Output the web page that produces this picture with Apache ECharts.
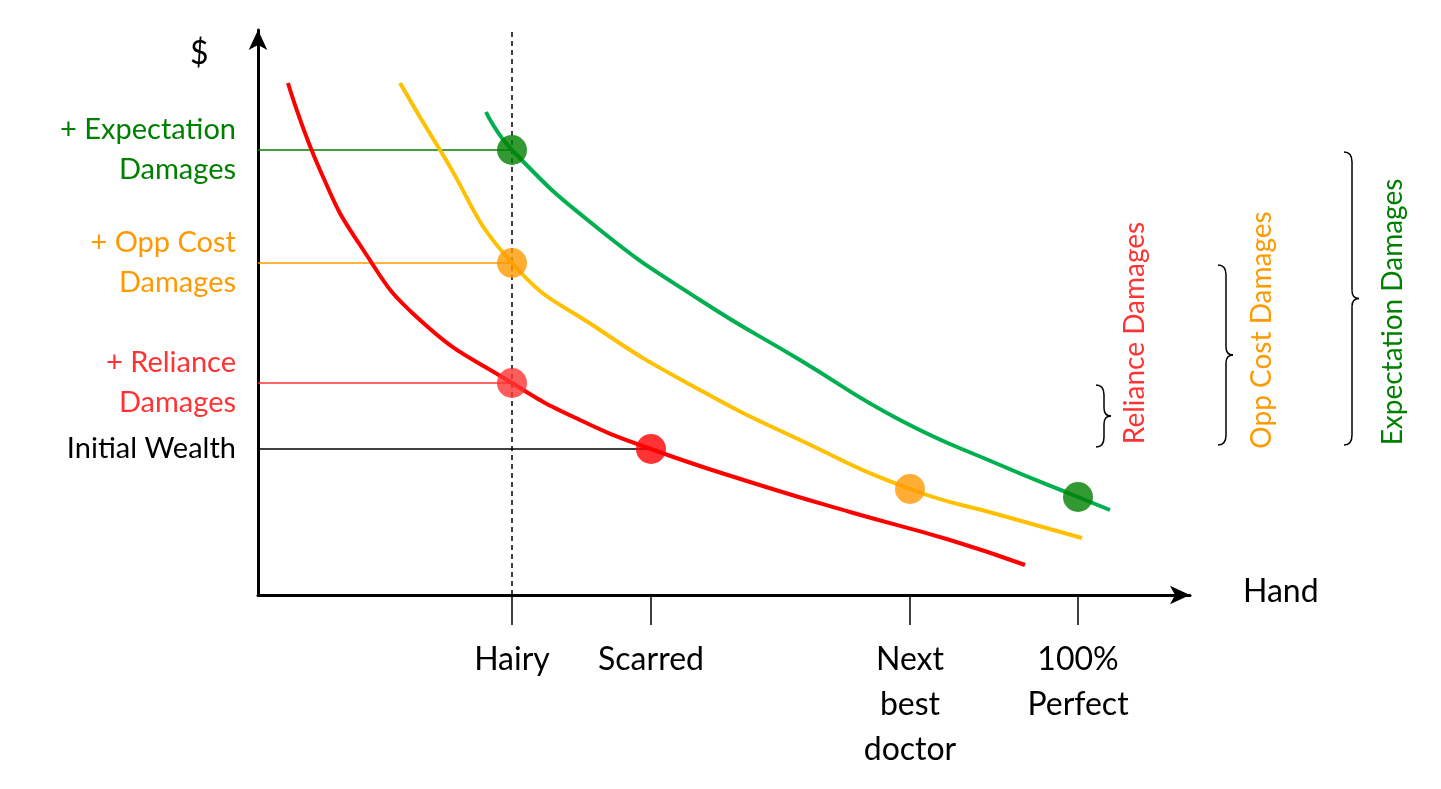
<!DOCTYPE html>
<html><head><meta charset="utf-8">
<script src="https://cdn.jsdelivr.net/npm/echarts@6/dist/echarts.min.js"></script>
<style>html,body{margin:0;background:#fff}#chart{width:1441px;height:789px}</style>
</head><body><div id="chart"></div>
<script>
// curves (x = hand quality, y = $), units are arbitrary
var redCurve = [[30,512],[62,425],[102,350],[162,275],[254,212],[322,175],[393,146],[492,113],[592,83],[692,55],[767,30]];
var yellowCurve = [[142,512],[182,445],[254,332],[342,265],[442,205],[542,155],[652,106],[742,80],[824,57]];
var greenCurve = [[228,483],[254,445],[342,365],[442,295],[542,235],[642,175],[742,130],[820,98],[852,85]];
var xTicks = [254, 393, 652, 820];
var xTickLabels = ['Hairy', 'Scarred', 'Next\nbest\ndoctor', '100%\nPerfect'];
var yTicks = [445, 332, 212, 146];
var yTickLabels = ['{g|+ Expectation}\n{g|Damages}', '{o|+ Opp Cost}\n{o|Damages}', '{r|+ Reliance}\n{r|Damages}', '{k|Initial Wealth}'];
var hairy = 254, scarred = 393;

var font = 'Lato';
// curly brace made of small pieces
function brace(x, y0, y1) {
    var ym = (y0 + y1) / 2;
    var st = {stroke: '#000', fill: null, lineWidth: 1.5};
    function bz(a, b, c, d, e, f) { return {type: 'bezierCurve', shape: {x1: a, y1: b, cpx1: c, cpy1: d, x2: e, y2: f}, style: st}; }
    function ln(a, b, c, d) { return {type: 'line', shape: {x1: a, y1: b, x2: c, y2: d}, style: st}; }
    return {type: 'group', children: [
        bz(x, y0, x+8, y0, x+8, y0+10),
        ln(x+8, y0+10, x+8, ym-8),
        bz(x+8, ym-8, x+8, ym, x+15, ym),
        bz(x+15, ym, x+8, ym, x+8, ym+8),
        ln(x+8, ym+8, x+8, y1-10),
        bz(x+8, y1-10, x+8, y1, x, y1)
    ]};
}
function hline(y, color) {
    return {type: 'line', data: [[0, y], [y === 146 ? scarred : hairy, y]], symbol: 'none', lineStyle: {color: color, width: 1.5}, z: 1};
}
function dots(pts, color) {
    return {type: 'scatter', data: pts, symbolSize: 30, itemStyle: {color: color}, z: 5};
}

var chart = echarts.init(document.getElementById('chart'));
chart.setOption({
    animation: false,
    grid: {left: 258, top: 30, right: 251, bottom: 194},
    xAxis: {
        type: 'value', min: 0, max: 932,
        splitLine: {show: false},
        axisLine: {lineStyle: {color: '#000', width: 3}, symbol: ['none', 'arrow'], symbolSize: [14, 20]},
        axisTick: {customValues: xTicks, length: 30, lineStyle: {color: '#000', width: 1.5}, inside: false},
        axisLabel: {customValues: xTicks, formatter: function (v) { return xTickLabels[xTicks.indexOf(v)]; },
            margin: 42, color: '#000', fontSize: 32, fontFamily: font, lineHeight: 45, verticalAlign: 'top'}
    },
    yAxis: {
        type: 'value', min: 0, max: 565,
        splitLine: {show: false},
        axisLine: {lineStyle: {color: '#000', width: 3}, symbol: ['none', 'arrow'], symbolSize: [14, 20]},
        axisTick: {show: false},
        axisLabel: {customValues: yTicks, formatter: function (v) { return yTickLabels[yTicks.indexOf(v)]; },
            margin: 22, align: 'right', fontSize: 29, fontFamily: font, lineHeight: 40,
            rich: {g: {color: '#008000', fontSize: 29, fontFamily: font, align: 'right'},
                   o: {color: '#ff9900', fontSize: 29, fontFamily: font, align: 'right'},
                   r: {color: '#ff3333', fontSize: 29, fontFamily: font, align: 'right'},
                   k: {color: '#000', fontSize: 29, fontFamily: font, align: 'right'}}}
    },
    series: [
        {type: 'line', data: [[hairy, 0], [hairy, 570]], symbol: 'none', lineStyle: {color: '#000', width: 1.5, type: [5, 4]}, z: 1},
        hline(445, '#008000'), hline(332, '#ff9900'), hline(212, '#ff3333'), hline(146, '#000'),
        {type: 'line', data: redCurve, smooth: true, symbol: 'none', lineStyle: {color: '#ff0000', width: 4}},
        {type: 'line', data: yellowCurve, smooth: true, symbol: 'none', lineStyle: {color: '#ffc000', width: 4}},
        {type: 'line', data: greenCurve, smooth: true, symbol: 'none', lineStyle: {color: '#00b050', width: 4}},
        dots([[254, 445], [820, 98]], '#008000'),
        dots([[254, 332], [652, 106]], '#ff9900'),
        dots([[254, 212]], '#ff3333'),
        dots([[393, 146]], '#ff0000')
    ],
    graphic: [
        {type: 'text', left: 190, top: 38, style: {text: '$', fontSize: 32, fontFamily: font, fill: '#000'}},
        {type: 'text', left: 1243, top: 576, style: {text: 'Hand', fontSize: 32, fontFamily: font, fill: '#000'}},
        brace(1096, 385, 447),
        brace(1218, 265, 445),
        brace(1344, 152, 445),
        {type: 'text', x: 1135, y: 333, rotation: Math.PI / 2,
            style: {text: 'Reliance Damages', fontSize: 28, fontFamily: font, fill: '#ff3333', align: 'center', verticalAlign: 'middle'}},
        {type: 'text', x: 1262, y: 330, rotation: Math.PI / 2,
            style: {text: 'Opp Cost Damages', fontSize: 28, fontFamily: font, fill: '#ff9900', align: 'center', verticalAlign: 'middle'}},
        {type: 'text', x: 1393, y: 312, rotation: Math.PI / 2,
            style: {text: 'Expectation Damages', fontSize: 28, fontFamily: font, fill: '#008000', align: 'center', verticalAlign: 'middle'}}
    ]
});
</script></body></html>
